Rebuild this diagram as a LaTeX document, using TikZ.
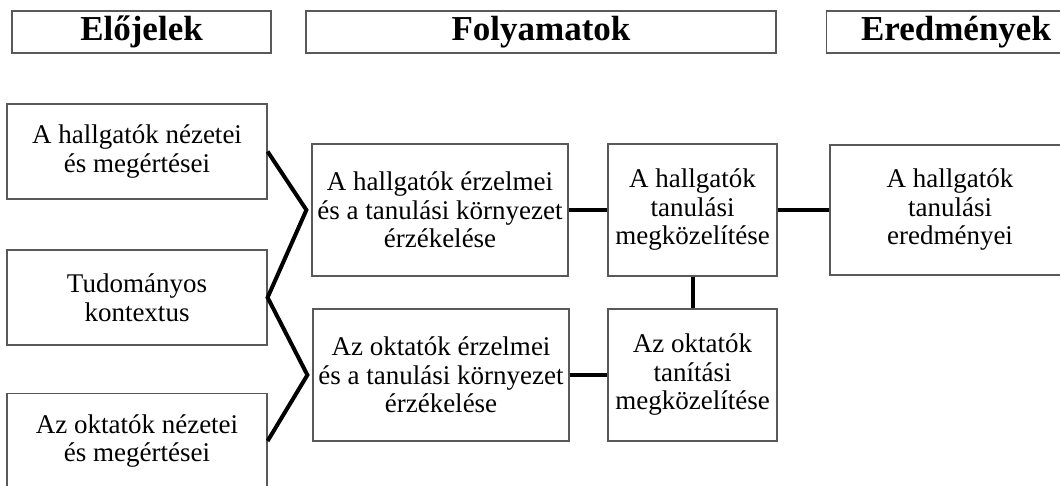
\documentclass[tikz,border=0pt]{standalone}
\usepackage{fontspec}
\setmainfont{Liberation Serif}
\begin{document}
\begin{tikzpicture}[x=1pt,y=-1pt,
  box/.style={draw=black!65, line width=1.2pt, fill=white, align=center, inner sep=0pt,
    font=\fontsize{27}{28.5}\selectfont},
  head/.style={draw=black!65, line width=1.2pt, fill=white, inner sep=0pt,
    minimum height=42pt, font=\fontsize{35}{38}\selectfont\bfseries},
  conn/.style={line width=4pt, black, line join=miter}]
\useasboundingbox (0,0) rectangle (1060,485);
\clip (0,0) rectangle (1060,485);

% column headings
\node[head, minimum width=259pt] (h1) at (141.5,32) {Előjelek};
\node[head, minimum width=470pt] (h2) at (541,32) {Folyamatok};
\node[head, minimum width=259pt] (h3) at (956,32) {Eredmények};

% presage factors
\node[box, minimum width=260pt, minimum height=95pt] (l1) at (137,151.5) {A hallgatók nézetei\\és megértései};
\node[box, minimum width=260pt, minimum height=95pt] (l2) at (137,297.5) {Tudományos\\kontextus};
\node[box, minimum width=260pt, minimum height=95pt] (l3) at (137,441) {Az oktatók nézetei\\és megértései};

% process factors
\node[box, minimum width=256pt, minimum height=132pt] (ma) at (440,210) {A hallgatók érzelmei\\és a tanulási környezet\\érzékelése};
\node[box, minimum width=256pt, minimum height=132pt] (mb) at (441,375) {Az oktatók érzelmei\\és a tanulási környezet\\érzékelése};
\node[box, minimum width=169pt, minimum height=132pt] (sa) at (692.5,210) {A hallgatók\\tanulási\\megközelítése};
\node[box, minimum width=169pt, minimum height=132pt] (ta) at (692.5,375) {Az oktatók\\tanítási\\megközelítése};

% product
\node[box, minimum width=240pt, minimum height=130pt] (res) at (950,210) {A hallgatók\\tanulási\\eredményei};

% junction points in front of the process boxes
\coordinate (ja) at ([xshift=-5pt]ma.west);
\coordinate (jb) at ([xshift=-5pt]mb.west);

% connectors
\draw[conn] (l1.east) -- (ja) -- (l2.east) -- (jb) -- (l3.east);
\draw[conn] (ma.east) -- (sa.west);
\draw[conn] (mb.east) -- (ta.west);
\draw[conn] (sa.east) -- (res.west);
\draw[conn] (sa.south) -- (sa.south |- ta.north);
\end{tikzpicture}
\end{document}
